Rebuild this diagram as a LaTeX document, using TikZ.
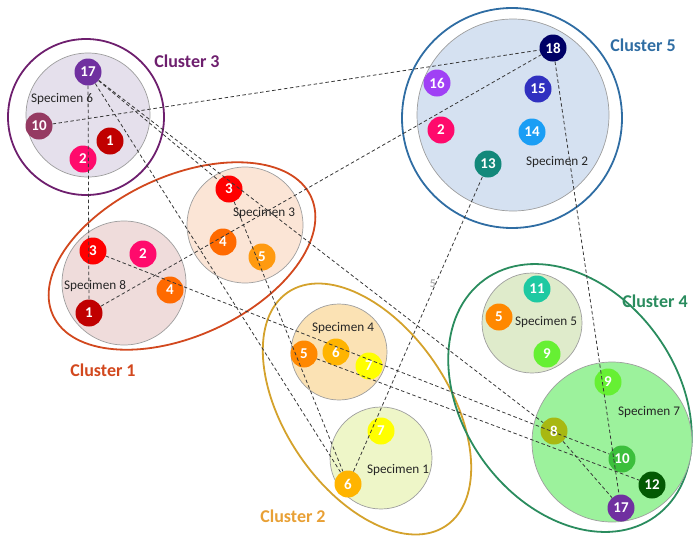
\documentclass[tikz,border=0pt]{standalone}
\usepackage{fontspec}
\setmainfont{Carlito}
\definecolor{cthree}{HTML}{6E1F6E}
\definecolor{cone}{HTML}{D2481E}
\definecolor{ctwo}{HTML}{D4A22C}
\definecolor{ctwolab}{HTML}{E8A035}
\definecolor{cfive}{HTML}{2F6DA3}
\definecolor{cfour}{HTML}{2A8C5E}
\definecolor{fsix}{HTML}{E5E0EC}
\definecolor{feight}{HTML}{EFDCDB}
\definecolor{fthree}{HTML}{FBE5D6}
\definecolor{ftwo}{HTML}{D5E1F1}
\definecolor{ffour}{HTML}{FBE2B4}
\definecolor{fone}{HTML}{EEF6C8}
\definecolor{ffive}{HTML}{DFEBCB}
\definecolor{fseven}{HTML}{9CF29C}
\definecolor{kpurple}{HTML}{7030A0}
\definecolor{kmauve}{HTML}{953A62}
\definecolor{kdred}{HTML}{C00000}
\definecolor{kpink}{HTML}{FF0A6C}
\definecolor{kred}{HTML}{FF0000}
\definecolor{korange}{HTML}{FF6A00}
\definecolor{klorange}{HTML}{FF9A10}
\definecolor{kdorange}{HTML}{FF8800}
\definecolor{kamber}{HTML}{FFB400}
\definecolor{kyellow}{HTML}{FFFF00}
\definecolor{knavy}{HTML}{000066}
\definecolor{kviolet}{HTML}{A040F5}
\definecolor{kblue}{HTML}{3030C0}
\definecolor{ksky}{HTML}{1A9EF5}
\definecolor{kteal}{HTML}{13887A}
\definecolor{kmint}{HTML}{1EC9A2}
\definecolor{klime}{HTML}{66F033}
\definecolor{kolive}{HTML}{A8B812}
\definecolor{kgreen}{HTML}{3CBF3C}
\definecolor{kdgreen}{HTML}{045A04}
\begin{document}
\begin{tikzpicture}[x=1pt,y=-1pt,
  spec/.style={circle, draw=black!38, line width=0.7pt, inner sep=0pt},
  dot/.style={circle, inner sep=0pt, minimum size=27pt, text=white,
    font=\bfseries\fontsize{15}{15}\selectfont},
  lbl/.style={font=\fontsize{13.2}{14}\selectfont, text=black!85},
  clab/.style={font=\bfseries\fontsize{18}{18}\selectfont},
  clus/.style={line width=1.8pt},
  link/.style={dash pattern=on 3.5pt off 2.5pt, line width=0.8pt, draw=black!78},
]
\useasboundingbox (0,0) rectangle (693,536);

% cluster outlines
\draw[clus, cthree] (86,117) circle [radius=78];
\draw[clus, cfive] (512,118) circle [radius=110];
\draw[clus, cone, rotate around={24.6:(182,256)}] (182,256) ellipse [x radius=142, y radius=80];
\draw[clus, ctwo, rotate around={-55.9:(367,409)}] (367,409) ellipse [x radius=141, y radius=82];
\draw[clus, cfour, rotate around={-54.2:(570,398)}] (570,398) ellipse [x radius=146, y radius=107];

% specimens
\node[spec, fill=fsix,  minimum size=124pt] (s6) at (88,115) {};
\node[spec, fill=feight,minimum size=124pt] (s8) at (124,283) {};
\node[spec, fill=fthree,minimum size=116pt] (s3) at (245,225) {};
\node[spec, fill=ftwo,  minimum size=192pt] (s2) at (513,115) {};
\node[spec, fill=ffour, minimum size=96pt]  (s4) at (339,352) {};
\node[spec, fill=fone,  minimum size=102pt] (s1) at (381,458) {};
\node[spec, fill=ffive, minimum size=100pt] (s5) at (532,323) {};
\node[spec, fill=fseven,minimum size=160pt] (s7) at (612,442) {};

% specimen names
\node[lbl] (t6) at (62,99) {Specimen 6};
\node[lbl] (t8) at (95,286) {Specimen 8};
\node[lbl] (t3) at (264,213) {Specimen 3};
\node[lbl] (t2) at (557,162) {Specimen 2};
\node[lbl] (t4) at (343,328) {Specimen 4};
\node[lbl] (t1) at (398,470) {Specimen 1};
\node[lbl] (t5) at (546,322) {Specimen 5};
\node[lbl] (t7) at (649,412) {Specimen 7};

% cluster names
\node[clab, text=cthree] (c3) at (187,61) {Cluster 3};
\node[clab, text=cone] (c1) at (103,370) {Cluster 1};
\node[clab, text=cfive] (c5) at (643,45) {Cluster 5};
\node[clab, text=cfour] (c4) at (655,301) {Cluster 4};
\node[clab, text=ctwolab] (c2) at (293,516) {Cluster 2};
\node[font=\bfseries\fontsize{12}{12}\selectfont, text=black!30] (m5) at (433,284) {5};

% Specimen 6
\node[dot, fill=kpurple] (a17) at (88,72) {17};
\node[dot, fill=kmauve] (a10) at (39,126) {10};
\node[dot, fill=kdred] (a1) at (110,141) {1};
\node[dot, fill=kpink] (a2) at (83,159) {2};
% Specimen 8
\node[dot, fill=kred] (b3) at (93,251) {3};
\node[dot, fill=kpink] (b2) at (143,254) {2};
\node[dot, fill=korange] (b4) at (170,290) {4};
\node[dot, fill=kdred] (b1) at (89,313) {1};
% Specimen 3
\node[dot, fill=kred] (c3n) at (229,189) {3};
\node[dot, fill=korange] (c4n) at (223,242) {4};
\node[dot, fill=klorange] (c5n) at (262,257) {5};
% Specimen 2
\node[dot, fill=knavy] (d18) at (553,48) {18};
\node[dot, fill=kviolet] (d16) at (437,83) {16};
\node[dot, fill=kblue] (d15) at (538,89) {15};
\node[dot, fill=kpink] (d2) at (441,130) {2};
\node[dot, fill=ksky] (d14) at (532,132) {14};
\node[dot, fill=kteal] (d13) at (488,164) {13};
% Specimen 4
\node[dot, fill=kdorange] (e5) at (304,354) {5};
\node[dot, fill=kamber] (e6) at (336,352) {6};
\node[dot, fill=kyellow] (e7) at (369,366) {7};
% Specimen 1
\node[dot, fill=kyellow] (f7) at (381,431) {7};
\node[dot, fill=kamber] (f6) at (348,484) {6};
% Specimen 5
\node[dot, fill=kmint] (g11) at (537,289) {11};
\node[dot, fill=kdorange] (g5) at (499,317) {5};
\node[dot, fill=klime] (g9) at (547,354) {9};
% Specimen 7
\node[dot, fill=klime] (h9) at (608,382) {9};
\node[dot, fill=kolive] (h8) at (554,431) {8};
\node[dot, fill=kgreen] (h10) at (622,459) {10};
\node[dot, fill=kdgreen] (h12) at (652,485) {12};
\node[dot, fill=kpurple] (h17) at (621,508) {17};

% links
\draw[link] (a10) -- (d18);
\draw[link] (a17) -- (b1);
\draw[link] (a17) -- (f6);
\draw[link] (a17) -- (c3n);
\draw[link] (a17) -- (h8);
\draw[link] (h8) -- (h17);
\draw[link] (c3n) -- (f6);
\draw[link] (b1) -- (d18);
\draw[link] (b3) -- (h10);
\draw[link] (e5) -- (h12);
\draw[link] (f6) -- (d13);
\draw[link] (d18) -- (h17);
\end{tikzpicture}
\end{document}
